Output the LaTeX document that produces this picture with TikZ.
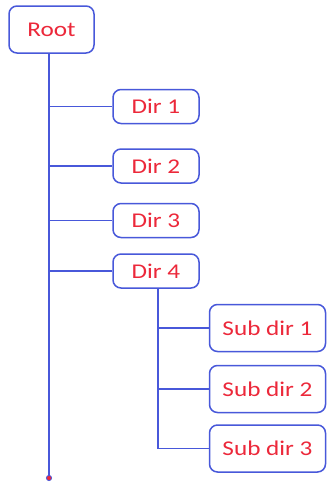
\documentclass[tikz,border=0pt]{standalone}
\usepackage{fontspec}
\newfontfamily\boxfont[FakeStretch=1.2]{Carlito}
\definecolor{treeblue}{RGB}{72,88,218}
\definecolor{labelred}{RGB}{236,40,58}
\begin{document}
\begin{tikzpicture}[x=1pt,y=-1pt,
  folder/.style={draw=treeblue, line width=1.5pt, rounded corners=8pt,
    fill=white, inner sep=0pt, text=labelred,
    font=\boxfont\fontsize{21}{24}\selectfont},
  dirbox/.style={folder, minimum width=86pt, minimum height=34pt},
  subbox/.style={folder, minimum width=116pt, minimum height=47pt},
  link/.style={draw=treeblue, line width=1.5pt}]
\useasboundingbox (0,0) rectangle (327,483);
\fill[white] (0,0) rectangle (327,483);

% root and first-level folders
\node[folder, minimum width=85pt, minimum height=47pt] (root) at (51.5,29.5) {Root};
\node[dirbox] (d1) at (156,106.5) {Dir 1};
\node[dirbox] (d2) at (156,166) {Dir 2};
\node[dirbox] (d3) at (156,220.5) {Dir 3};
\node[dirbox] (d4) at (156,271) {Dir 4};

% sub folders of Dir 4
\node[subbox] (s1) at (267.5,328) {Sub dir 1};
\node[subbox] (s2) at (267.5,389) {Sub dir 2};
\node[subbox] (s3) at (267.5,448.5) {Sub dir 3};

% main trunk
\coordinate (trunk) at (49,53);
\coordinate (trunkend) at (49,478);
\draw[link] (trunk) -- (trunkend);
\foreach \d in {d1,d2,d3,d4}
  \draw[link] (\d.west -| trunk) -- (\d.west);

% branch under Dir 4
\coordinate (sub) at (158,288);
\draw[link] (sub) |- (s3.west);
\foreach \s in {s1,s2}
  \draw[link] (\s.west -| sub) -- (\s.west);

% end marker of the trunk
\filldraw[draw=treeblue, fill=labelred, line width=0.8pt] (trunkend) circle (2.6pt);
\end{tikzpicture}
\end{document}
